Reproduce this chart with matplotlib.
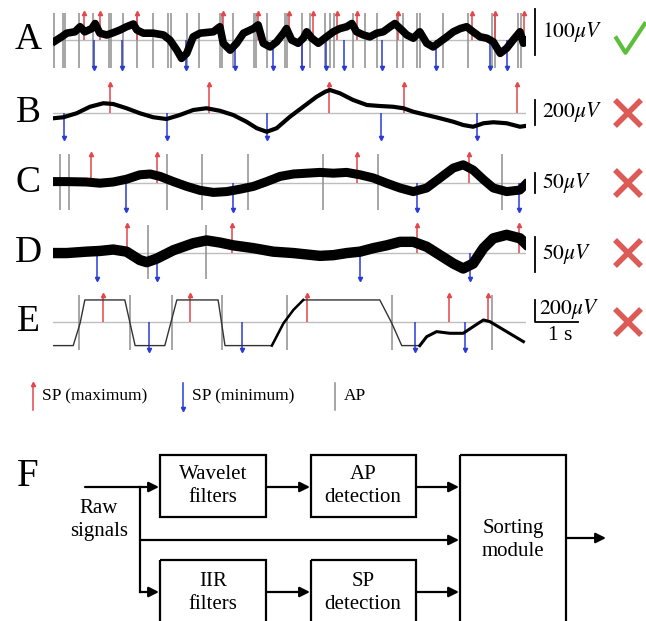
import matplotlib
matplotlib.use('Agg')
import matplotlib.pyplot as plt
from matplotlib.patches import Rectangle
from matplotlib.path import Path

plt.rcParams['font.family'] = ['Liberation Serif', 'DejaVu Serif']
plt.rcParams['mathtext.fontset'] = 'stix'

# ---- recorded traces: time in s, amplitude in uV ----
a_t = [0.05, 0.20, 0.32, 0.51, 0.63, 0.74, 0.90, 0.98, 1.09, 1.25,
       1.40, 1.56, 1.71, 1.87, 1.95, 2.10, 2.33, 2.57, 2.72, 2.88,
       2.99, 3.11, 3.26, 3.42, 3.73, 3.88, 3.96, 4.12, 4.27, 4.43,
       4.66, 4.77, 4.89, 5.05, 5.20, 5.36, 5.43, 5.55, 5.70, 5.82,
       5.90, 6.02, 6.17, 6.36, 6.52, 6.67, 6.83, 6.95, 7.06, 7.22,
       7.37, 7.53, 7.68, 7.84, 7.95, 8.11, 8.23, 8.38, 8.53, 8.69,
       8.84, 9.00, 9.16, 9.31, 9.47, 9.62, 9.77, 9.93, 10.09, 10.24,
       10.40, 10.55, 10.70, 10.86, 10.94, 10.98]
a_v = [-2, 7, 15, 18, 29, 18, 25, 36, 15, 11,
       16, 22, 29, 35, 22, 15, 15, 11, 0, -22,
       -40, -29, 7, 15, 18, 29, -7, -22, -7, 15,
       25, 33, -7, -15, -4, 15, 25, 0, -7, 4,
       18, 4, -7, 7, 18, 25, 29, 36, 18, 11,
       7, 15, 18, 29, 36, 22, 11, 4, 18, -7,
       -15, -4, 7, 18, 25, 29, 18, 7, 4, -4,
       -29, -18, 0, 18, -7, 0]
a_max = [0.72, 1.09, 1.95, 3.95, 4.77, 5.49, 6.05, 6.60, 7.07, 8.02, 9.74, 10.28, 10.95]
a_min = [0.95, 1.60, 3.09, 4.23, 5.12, 5.79, 6.35, 6.77, 7.65, 8.91, 10.16, 10.56]
a_ap = [0.02, 0.23, 0.28, 0.60, 0.93, 1.30, 1.35, 1.63, 1.95, 2.33, 2.67, 2.74,
        3.12, 3.40, 3.88, 3.93, 4.19, 4.67, 4.72, 4.98, 5.40, 5.44, 5.79, 5.98,
        6.33, 6.44, 6.53, 6.98, 7.26, 7.53, 8.00, 8.14, 8.47, 8.53, 9.07, 9.65,
        10.21, 10.28, 10.81, 10.88]

b_t = [0.01, 0.24, 0.55, 0.86, 1.17, 1.40, 1.71, 2.02, 2.33, 2.64,
       2.95, 3.26, 3.57, 3.88, 4.19, 4.50, 4.74, 4.97, 5.20, 5.51,
       5.82, 6.13, 6.33, 6.44, 6.67, 6.98, 7.30, 7.60, 7.91, 8.15,
       8.38, 8.69, 9.00, 9.31, 9.54, 9.77, 10.01, 10.24, 10.55, 10.86,
       10.98]
b_v = [-42, -34, -2, 50, 78, 72, 38, -2, -34, -48,
       -16, 24, 38, 18, -16, -70, -122, -150, -122, -30,
       50, 130, 170, 184, 158, 104, 64, 56, 50, 38,
       10, -16, -42, -70, -96, -110, -82, -74, -82, -110,
       -104]
b_max = [1.33, 3.63, 6.42, 8.16, 10.79]
b_min = [0.26, 2.65, 4.98, 7.63, 9.86]
b_ap = []

c_t = [0.01, 0.32, 0.78, 1.09, 1.40, 1.71, 2.02, 2.26, 2.49, 2.80,
       3.11, 3.42, 3.73, 4.04, 4.35, 4.66, 4.97, 5.28, 5.59, 5.90,
       6.21, 6.52, 6.83, 7.14, 7.45, 7.76, 8.07, 8.38, 8.69, 9.00,
       9.31, 9.54, 9.77, 10.01, 10.24, 10.55, 10.86, 10.98]
c_v = [3, 3, 2, -1, 2, 9, 20, 22, 16, 3,
       -9, -19, -24, -22, -16, -9, 3, 16, 22, 24,
       26, 24, 26, 20, 12, -1, -13, -22, -13, 12,
       37, 45, 32, 8, -13, -22, -18, -5]
c_max = [0.88, 2.42, 7.07, 9.67]
c_min = [1.70, 4.19, 8.47, 10.84]
c_ap = [0.16, 0.37, 2.65, 3.47, 4.53, 6.28, 7.56, 10.44]

d_t = [0.01, 0.32, 0.78, 1.09, 1.40, 1.71, 2.02, 2.18, 2.41, 2.80,
       3.26, 3.57, 3.88, 4.19, 4.66, 5.12, 5.59, 6.05, 6.21, 6.52,
       6.83, 7.14, 7.45, 7.76, 8.07, 8.38, 8.69, 9.00, 9.31, 9.54,
       9.77, 10.01, 10.24, 10.55, 10.86, 10.98]
d_v = [0, 0, 2, 3, 5, 2, -10, -13, -8, 4,
       14, 18, 15, 11, 7, 2, 0, -3, -4, -3,
       0, 2, 7, 11, 16, 16, 9, -3, -15, -22,
       -15, 7, 21, 26, 21, 14]
d_max = [1.72, 4.16, 8.47, 10.84]
d_min = [1.02, 2.42, 7.14, 9.70]
d_ap = [2.21, 3.56]

e_t = [0.01, 0.47, 0.63, 0.74, 1.67, 1.91, 2.60, 2.88, 3.84, 4.00,
       5.09, 5.36, 5.59, 5.82, 7.60, 7.88, 8.11, 8.53, 8.69, 8.92,
       9.23, 9.54, 9.77, 10.01, 10.16, 10.55, 10.94]
e_v = [-215, -215, -12, 200, 200, -215, -215, 200, 200, -215,
       -215, -12, 109, 200, 200, -12, -215, -215, -134, -88,
       -103, -103, -43, 18, 3, -88, -179]
e_max = [1.16, 3.19, 5.91, 9.21, 10.12]
e_min = [2.23, 4.40, 8.42, 9.58]
e_ap = [0.60, 1.79, 2.77, 3.93, 5.44, 7.88, 10.21]

row_labels = ['A', 'B', 'C', 'D', 'E']
scale_uv = [100, 200, 50, 50, 200]
row_ok = [True, False, False, False, False]
legend_labels = ['SP (maximum)', 'SP (minimum)', 'AP']
box_labels = ['Wavelet\nfilters', 'AP\ndetection', 'IIR\nfilters', 'SP\ndetection', 'Sorting\nmodule']
input_label = 'Raw\nsignals'

# ---- layout (pixels of the 646x621 picture) ----
W, H = 646, 621
RED, BLUE, GREY = '#e2474b', '#2a3ad4', '#8e8e8e'

rows = [
    dict(t=a_t, v=a_v, mx=a_max, mn=a_min, ap=a_ap, top=13, bot=68, base=40, ylim=(-61, 59), lw=5.5, bar=(-33, 67)),
    dict(t=b_t, v=b_v, mx=b_max, mn=b_min, ap=b_ap, top=84, bot=138, base=113, ylim=(-200, 232), lw=3.0, bar=(-96, 104)),
    dict(t=c_t, v=c_v, mx=c_max, mn=c_min, ap=c_ap, top=154, bot=210, base=183, ylim=(-68, 72), lw=6.5, bar=(-25, 25)),
    dict(t=d_t, v=d_v, mx=d_max, mn=d_min, ap=d_ap, top=225, bot=279, base=253, ylim=(-37, 40), lw=7.5, bar=(-27, 23)),
    dict(t=e_t, v=e_v, mx=e_max, mn=e_min, ap=e_ap, top=295, bot=350, base=322, ylim=(-255, 245), lw=1.0, bar=(0, 200)),
]


def fig_rect(x0, y0, x1, y1):
    return [x0 / W, 1 - y1 / H, (x1 - x0) / W, (y1 - y0) / H]


fig = plt.figure(figsize=(6.46, 6.21), dpi=100)
canvas = fig.add_axes([0, 0, 1, 1])
canvas.set_xlim(0, W)
canvas.set_ylim(H, 0)
canvas.axis('off')

check = Path([(-1, 0.07), (-0.33, -1), (1, 1)])

for i, r in enumerate(rows):
    ax = fig.add_axes(fig_rect(53, r['top'], 526, r['bot']))
    ax.set_xlim(0, 11)
    lo, hi = r['ylim']
    ax.set_ylim(lo, hi)
    ax.axis('off')

    ax.axhline(0, color='#bdbdbd', lw=1, zorder=1)
    for t in r['ap']:
        ax.axvline(t, color=GREY, lw=1.1, zorder=1)
    ax.vlines(r['mx'], 0, hi, color=RED, lw=1.1, zorder=2)
    ax.plot(r['mx'], [hi] * len(r['mx']), '^', color=RED, ms=3, clip_on=False, zorder=2)
    ax.vlines(r['mn'], lo, 0, color=BLUE, lw=1.1, zorder=2)
    ax.plot(r['mn'], [lo] * len(r['mn']), 'v', color=BLUE, ms=3, clip_on=False, zorder=2)

    if i < 4:
        ax.plot(r['t'], r['v'], color='k', lw=r['lw'], zorder=3, solid_joinstyle='round')
        ax.plot([11.22, 11.22], r['bar'], color='k', lw=1.3, clip_on=False)
        ax.text(11.38, sum(r['bar']) / 2, r'$%d\mu V$' % scale_uv[i], fontsize=15.5,
                va='center', ha='left')
    else:
        ax.plot(r['t'], r['v'], color='#333333', lw=1.0, zorder=3)
        ax.plot(r['t'][10:14], r['v'][10:14], color='k', lw=1.8, zorder=3)
        ax.plot(r['t'][17:], r['v'][17:], color='k', lw=2.2, zorder=3, solid_joinstyle='round')
        ax.plot([11.2, 11.2, 12.2], [r['bar'][1], 0, 0], color='k', lw=1.3, clip_on=False)
        ax.text(11.3, 118, r'$%d\mu V$' % scale_uv[i], fontsize=15.5, va='center', ha='left')
        ax.text(11.8, -125, '1 s', fontsize=15.5, va='center', ha='center')

    canvas.text(28, r['base'], row_labels[i], fontsize=27, ha='center', va='center')
    if row_ok[i]:
        canvas.plot(630, r['base'] - 3, marker=check, ms=22, mfc='none', mec='#5cbf3a', mew=3)
    else:
        canvas.plot(628, r['base'], marker='x', ms=19, mec='#dc5b57', mew=4)

# ---- legend ----
leg_x = [33, 183, 335]
canvas.plot([leg_x[0], leg_x[0]], [410, 384], color=RED, lw=1.1)
canvas.plot(leg_x[0], 384, '^', color=RED, ms=3)
canvas.plot([leg_x[1], leg_x[1]], [383, 409], color=BLUE, lw=1.1)
canvas.plot(leg_x[1], 409, 'v', color=BLUE, ms=3)
canvas.plot([leg_x[2], leg_x[2]], [383, 410], color=GREY, lw=1.1)
for x, lab in zip(leg_x, legend_labels):
    canvas.text(x + 9, 396, lab, fontsize=12.5, va='center', ha='left')

# ---- F: processing diagram ----
canvas.text(28, 477, 'F', fontsize=28, ha='center', va='center')
boxes = [(160, 455, 266, 517), (311, 455, 416, 517), (160, 560, 266, 640),
         (311, 560, 416, 640), (460, 455, 566, 640)]
centres = [(213, 486), (363, 486), (213, 593), (363, 593), (513, 540)]
for (x0, y0, x1, y1), (cx, cy), lab in zip(boxes, centres, box_labels):
    canvas.add_patch(Rectangle((x0, y0), x1 - x0, y1 - y0, fill=False, lw=1.6, ec='k'))
    canvas.text(cx, cy, lab, fontsize=15, ha='center', va='center', linespacing=1.25)

canvas.text(99, 520, input_label, fontsize=15, ha='center', va='center', linespacing=1.25)
arrow = dict(arrowstyle='-|>', color='k', lw=1.6, mutation_scale=15, shrinkA=0, shrinkB=0)
for start, end in [((85, 487), (159, 487)), ((140, 592), (159, 592)), ((140, 540), (459, 540)),
                   ((266, 487), (310, 487)), ((416, 487), (459, 487)), ((266, 592), (310, 592)),
                   ((416, 592), (459, 592)), ((566, 538), (606, 538))]:
    canvas.annotate('', xy=end, xytext=start, arrowprops=arrow)
canvas.plot([140, 140], [487, 592], color='k', lw=1.6)

fig.savefig('out.png', dpi=100)
